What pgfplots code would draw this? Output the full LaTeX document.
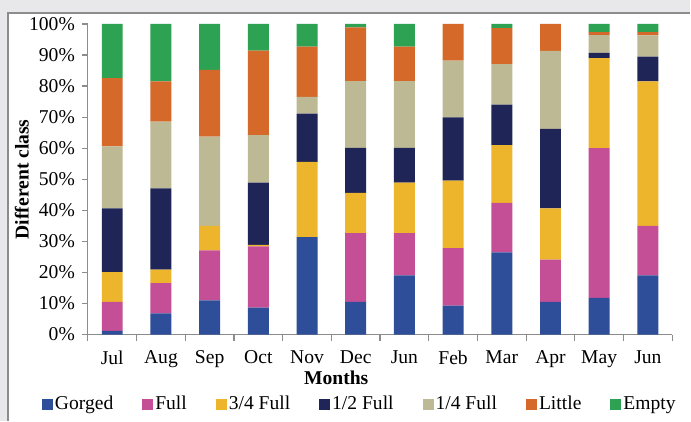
\documentclass[border=0pt]{standalone}
\usepackage{pgfplots}
\pgfplotsset{compat=1.18}
\usepackage{pgfplotstable}
\usepackage{fontspec}
\setmainfont{Liberation Serif}
\definecolor{cG}{HTML}{2E4E9A}
\definecolor{cF}{HTML}{C44F96}
\definecolor{cT}{HTML}{EDB52B}
\definecolor{cH}{HTML}{1F2556}
\definecolor{cQ}{HTML}{BEB995}
\definecolor{cL}{HTML}{D4692A}
\definecolor{cE}{HTML}{2DA253}
\definecolor{bgc}{HTML}{E8E8EA}
\definecolor{axc}{HTML}{8C8C8C}
\pgfplotstableread{
x g f tq h q l e
0 1.2 9.3 9.6 20.5 20.0 22.0 17.4
1 6.8 9.8 4.3 26.2 21.5 12.9 18.5
2 11.0 16.1 7.9 0 28.7 21.5 14.8
3 8.7 19.7 0.5 20.0 15.3 27.2 8.6
4 31.4 0 24.2 15.5 5.4 16.2 7.3
5 10.5 22.2 12.9 14.5 21.5 17.3 1.1
6 19.1 13.6 16.2 11.2 21.5 11.1 7.3
7 9.3 18.5 21.8 20.3 18.3 11.8 0
8 26.5 15.9 18.6 13.0 13.1 11.6 1.3
9 10.5 13.6 16.5 25.6 25.1 8.7 0
10 11.8 48.2 29.0 1.7 5.7 1.0 2.6
11 19.1 15.9 46.5 8.0 6.8 1.1 2.6
}\data
\newcommand{\fs}{\fontsize{9.8}{11.5}\selectfont}
\begin{document}
\begin{tikzpicture}
\fill[bgc] (-44pt,-43pt) rectangle (301.5pt,167.5pt);
\fill[white] (-40pt,-43pt) rectangle (301.5pt,161pt);
\draw[axc, line width=0.8pt] (-40pt,-43pt) -- (-40pt,161pt) -- (301.5pt,161pt);
\begin{axis}[
  at={(0pt,0pt)}, anchor=south west,
  scale only axis, width=292.5pt, height=155.5pt,
  ybar stacked, bar width=10.5pt,
  xmin=-0.5, xmax=11.5, ymin=0, ymax=100,
  axis x line=bottom, axis y line=left,
  axis line style={-, axc, line width=0.6pt},
  tick align=outside,
  xtick={0,...,11},
  xticklabels={Jul,Aug,Sep,Oct,Nov,Dec,Jun,Feb,Mar,Apr,May,Jun},
  major x tick style={draw=none},
  minor xtick={-0.5,0.5,...,11.5},
  minor tick length=3pt, major tick length=3pt,
  tick style={axc, line width=0.6pt},
  ytick={0,10,...,100},
  yticklabel={\pgfmathprintnumber{\tick}\%},
  /pgf/number format/assume math mode=true,
  tick label style={font=\fs},
  xticklabel style={yshift=-1.5pt},
  xlabel={\textbf{Months}},
  ylabel={\textbf{Different class}},
  label style={font=\fs},
  xlabel style={at={(axis description cs:0.425,-0.14)}, anchor=center},
  ylabel style={at={(axis description cs:-0.113,0.5)}, anchor=center},
  legend columns=7,
  legend style={draw=none, fill=none, font=\fs, at={(axis description cs:0.467,-0.224)}, anchor=center,
    /tikz/every even column/.append style={column sep=12.5pt},
    /tikz/every odd column/.append style={column sep=-1pt}},
  legend image code/.code={\path[#1] (0pt,-2.75pt) rectangle (5.5pt,2.75pt);},
]
\addplot[fill=cG, draw=none] table[x=x,y=g]{\data};
\addplot[fill=cF, draw=none] table[x=x,y=f]{\data};
\addplot[fill=cT, draw=none] table[x=x,y=tq]{\data};
\addplot[fill=cH, draw=none] table[x=x,y=h]{\data};
\addplot[fill=cQ, draw=none] table[x=x,y=q]{\data};
\addplot[fill=cL, draw=none] table[x=x,y=l]{\data};
\addplot[fill=cE, draw=none] table[x=x,y=e]{\data};
\legend{Gorged,Full,3/4 Full,1/2 Full,1/4 Full,Little,Empty}
\end{axis}
\end{tikzpicture}
\end{document}
